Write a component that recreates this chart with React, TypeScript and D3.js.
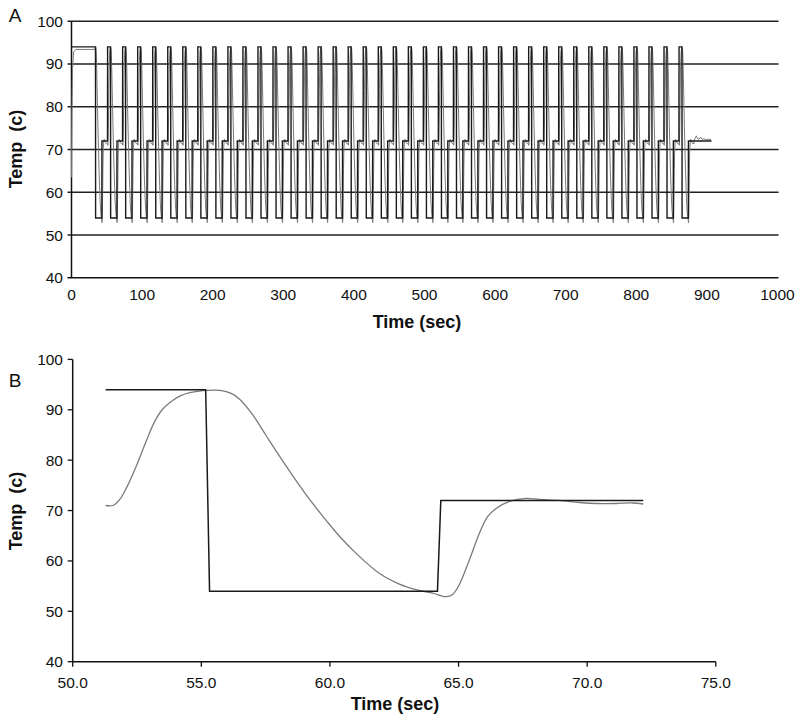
import React from 'react';
import * as d3 from 'd3';

// ---------- data ----------
const topXTicks = [0, 100, 200, 300, 400, 500, 600, 700, 800, 900, 1000];
const tempTicks = [40, 50, 60, 70, 80, 90, 100];
const topGridTemps = [50, 60, 70, 80, 90, 100];
const bXTicks = [50, 55, 60, 65, 70, 75];

const denatureTemp = 94;
const annealTemp = 54;
const extendTemp = 72;

// time (sec) of each 94 -> 54 step in panel A (40 cycles)
const dropTimes = [
  34.0, 55.3, 76.6, 97.9, 119.2, 140.5, 161.8, 183.1, 204.4, 225.7,
  247.0, 268.3, 289.6, 310.9, 332.2, 353.5, 374.8, 396.1, 417.4, 438.7,
  460.0, 481.3, 502.6, 523.9, 545.2, 566.5, 587.8, 609.1, 630.4, 651.7,
  673.0, 694.3, 715.6, 736.9, 758.2, 779.5, 800.8, 822.1, 843.4, 864.7,
];
const annealEnd = 9.0; // seconds after drop
const extendEnd = 17.0; // seconds after drop
const finalHoldEnd = 906.5;

// Panel B: one cycle, setpoint
const bSetTime = [51.28, 55.17, 55.32, 64.18, 64.31, 72.18];
const bSetTemp = [94, 94, 54, 54, 72, 72];
const bDrop = 55.3;

// Panel B: measured temperature
const bTime = [
  51.28, 51.57, 51.83, 52.09, 52.47, 52.86, 53.19, 53.51, 53.9, 54.2, 54.55,
  55.06, 55.58, 55.97, 56.25, 56.49, 57.0, 57.53, 58.04, 58.69, 59.21, 59.86,
  60.37, 61.02, 61.93, 62.7, 63.35, 64.0, 64.52, 64.78, 65.03, 65.42,
  65.81, 66.13, 66.46, 66.98, 67.63, 68.14, 68.92, 69.7, 70.35, 71.12,
  71.77, 72.18,
];
const bTemp = [
  71.0, 71.0, 72.2, 74.5, 78.8, 83.8, 87.7, 90.2, 91.9, 92.8, 93.4,
  93.8, 93.9, 93.6, 93.0, 92.1, 89.0, 84.8, 80.8, 75.9, 72.2, 68.0,
  64.9, 61.5, 57.5, 55.4, 54.3, 53.6, 52.9, 53.4, 55.3, 60.2,
  65.5, 68.8, 70.4, 71.8, 72.4, 72.2, 72.0, 71.6, 71.4, 71.4,
  71.5, 71.3,
];

// Panel A: measured temperature at start and end of run
const initTime = [0, 0.6, 1.5, 3, 6, 33.3];
const initTemp = [63.5, 78, 89, 92.8, 93.4, 93.4];
const tailTime = [882, 883.5, 885, 887, 889, 891, 893, 896, 899, 902, 906];
const tailTemp = [72.2, 72.6, 73.2, 72.5, 72.4, 72.9, 72.4, 72.5, 72.3, 72.4, 72.3];

// ---------- layout ----------
const W = 800;
const H = 721;
const FONT = '"Liberation Sans", Arial, Helvetica, sans-serif';

const ax = d3.scaleLinear().domain([0, 1000]).range([71.5, 777.5]);
const ay = d3.scaleLinear().domain([40, 100]).range([277.8, 21.2]);
const bx = d3.scaleLinear().domain([50, 75]).range([72.7, 715.8]);
const by = d3.scaleLinear().domain([40, 100]).range([661.7, 359.4]);

function buildSetpointA(): [number, number][] {
  const pts: [number, number][] = [[0, denatureTemp]];
  dropTimes.forEach((d, k) => {
    pts.push([d, denatureTemp], [d + 0.15, annealTemp], [d + annealEnd, annealTemp], [d + annealEnd + 0.12, extendTemp]);
    if (k < dropTimes.length - 1) {
      pts.push([d + extendEnd, extendTemp], [d + extendEnd + 0.15, denatureTemp]);
    } else {
      pts.push([finalHoldEnd, extendTemp]);
    }
  });
  return pts;
}

function buildMeasuredA(): [number, number][] {
  const pts: [number, number][] = initTime.map((t, i) => [t, initTemp[i]]);
  dropTimes.forEach((d, k) => {
    bTime.forEach((t, i) => {
      const rel = t - bDrop;
      if (k === 0 && rel < -0.5) return;
      pts.push([d + rel, bTemp[i]]);
    });
  });
  tailTime.forEach((t, i) => pts.push([t, tailTemp[i]]));
  return pts;
}

export default function App() {
  const setA = buildSetpointA();
  const measA = buildMeasuredA();
  const lineA = d3.line<[number, number]>().x((p) => ax(p[0])).y((p) => ay(p[1]));
  const lineBSet = d3.line<[number, number]>().x((p) => bx(p[0])).y((p) => by(p[1]));
  const lineBMeas = d3
    .line<[number, number]>()
    .x((p) => bx(p[0]))
    .y((p) => by(p[1]))
    .curve(d3.curveCatmullRom.alpha(0.5));

  const bSet: [number, number][] = bSetTime.map((t, i) => [t, bSetTemp[i]]);
  const bMeas: [number, number][] = bTime.map((t, i) => [t, bTemp[i]]);

  const axisColor = '#111';
  const gridColor = '#222';
  const measColor = '#7a7a7a';
  const setColor = '#1a1a1a';
  const tickSize = 15.5;
  const titleSize = 18;

  return (
    <svg
      width={W}
      height={H}
      viewBox={`0 0 ${W} ${H}`}
      style={{ position: 'absolute', left: 0, top: 0, background: '#fff' }}
      fontFamily={FONT}
    >
      <rect x={0} y={0} width={W} height={H} fill="#fff" />

      {/* ---------- Panel A ---------- */}
      <text x={15} y={15} fontSize={19} textAnchor="middle" dominantBaseline="central" fill="#111">
        A
      </text>
      {topGridTemps.map((v) => (
        <line key={'g' + v} x1={ax(0) - 4} x2={ax(1000) + 1} y1={ay(v)} y2={ay(v)} stroke={gridColor} strokeWidth={1.4} />
      ))}
      <line x1={ax(0) - 4} x2={ax(1000) + 1} y1={ay(40)} y2={ay(40)} stroke={axisColor} strokeWidth={1.5} />
      <line x1={ax(0)} x2={ax(0)} y1={ay(40)} y2={ay(100)} stroke={axisColor} strokeWidth={1.5} />
      {tempTicks.map((v) => (
        <text key={'ay' + v} x={63} y={ay(v)} fontSize={tickSize} textAnchor="end" dominantBaseline="central" fill="#111">
          {v}
        </text>
      ))}
      {topXTicks.map((v) => (
        <text key={'ax' + v} x={ax(v)} y={294} fontSize={tickSize} textAnchor="middle" dominantBaseline="central" fill="#111">
          {v}
        </text>
      ))}
      <path d={lineA(measA) || ''} fill="none" stroke={measColor} strokeWidth={1} />
      <path d={lineA(setA) || ''} fill="none" stroke={setColor} strokeWidth={1.4} />
      <text x={417} y={322} fontSize={titleSize} fontWeight="bold" textAnchor="middle" dominantBaseline="central" fill="#111">
        Time (sec)
      </text>
      <text
        transform={`translate(16,149) rotate(-90)`}
        fontSize={titleSize}
        fontWeight="bold"
        textAnchor="middle"
        dominantBaseline="central"
        fill="#111"
        style={{ whiteSpace: 'pre' }}
      >
        {'Temp  (c)'}
      </text>

      {/* ---------- Panel B ---------- */}
      <text x={15} y={380} fontSize={19} textAnchor="middle" dominantBaseline="central" fill="#111">
        B
      </text>
      <line x1={bx(50)} x2={bx(75)} y1={by(40)} y2={by(40)} stroke={axisColor} strokeWidth={1.5} />
      <line x1={bx(50)} x2={bx(50)} y1={by(40)} y2={by(100)} stroke={axisColor} strokeWidth={1.5} />
      {tempTicks.map((v) => (
        <g key={'by' + v}>
          <line x1={bx(50) - 5} x2={bx(50)} y1={by(v)} y2={by(v)} stroke={axisColor} strokeWidth={1.3} />
          <text x={63} y={by(v)} fontSize={tickSize} textAnchor="end" dominantBaseline="central" fill="#111">
            {v}
          </text>
        </g>
      ))}
      {bXTicks.map((v) => (
        <g key={'bx' + v}>
          <line x1={bx(v)} x2={bx(v)} y1={by(40)} y2={by(40) + 5} stroke={axisColor} strokeWidth={1.3} />
          <text x={bx(v)} y={682} fontSize={tickSize} textAnchor="middle" dominantBaseline="central" fill="#111">
            {v.toFixed(1)}
          </text>
        </g>
      ))}
      <path d={lineBMeas(bMeas) || ''} fill="none" stroke={measColor} strokeWidth={1.3} />
      <path d={lineBSet(bSet) || ''} fill="none" stroke={setColor} strokeWidth={1.5} />
      <text x={395} y={704} fontSize={titleSize} fontWeight="bold" textAnchor="middle" dominantBaseline="central" fill="#111">
        Time (sec)
      </text>
      <text
        transform={`translate(16,511) rotate(-90)`}
        fontSize={titleSize}
        fontWeight="bold"
        textAnchor="middle"
        dominantBaseline="central"
        fill="#111"
        style={{ whiteSpace: 'pre' }}
      >
        {'Temp  (c)'}
      </text>
    </svg>
  );
}
